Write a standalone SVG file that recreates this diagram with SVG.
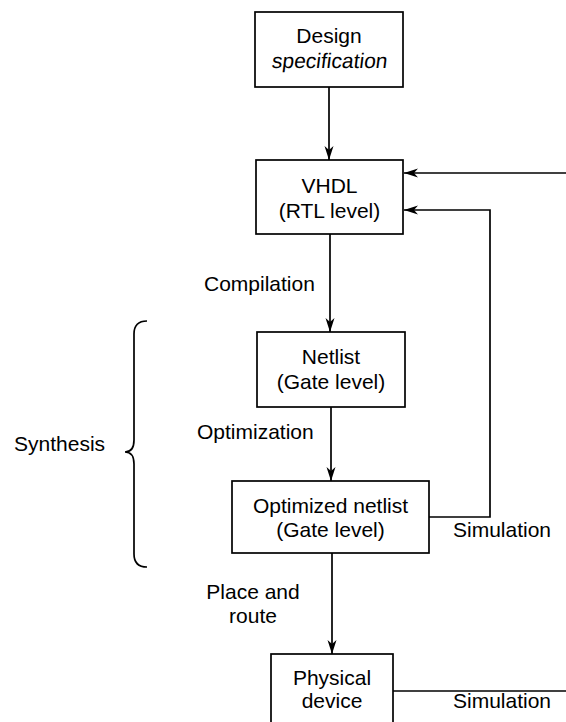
<svg xmlns="http://www.w3.org/2000/svg" width="566" height="722" viewBox="0 0 566 722">
  <defs>
    <marker id="arrow" markerUnits="userSpaceOnUse" markerWidth="16" markerHeight="12" refX="14" refY="6" orient="auto" overflow="visible">
      <path d="M14,6 L0,1.5 L4,6 L0,10.5 Z" fill="#000"/>
    </marker>
    <style>
      .box { fill: #fff; stroke: #000; stroke-width: 1.7; }
      .line { fill: none; stroke: #000; stroke-width: 1.7; }
      text { font-family: "Liberation Sans", Arial, sans-serif; font-size: 21px; fill: #000; }
      .c { text-anchor: middle; }
    </style>
  </defs>
  <rect width="566" height="722" fill="#fff"/>

  <!-- flow connectors -->
  <g id="connectors">
    <line class="line" x1="329" y1="87" x2="329" y2="160" marker-end="url(#arrow)"/>
    <line class="line" x1="330" y1="234" x2="330" y2="332" marker-end="url(#arrow)"/>
    <line class="line" x1="331" y1="407" x2="331" y2="481" marker-end="url(#arrow)"/>
    <line class="line" x1="332" y1="553" x2="332" y2="654" marker-end="url(#arrow)"/>
    <line class="line" x1="566" y1="173" x2="404" y2="173" marker-end="url(#arrow)"/>
    <polyline class="line" points="429,517 490,517 490,210 404,210" marker-end="url(#arrow)"/>
    <line class="line" x1="393" y1="691" x2="566" y2="691"/>
    <path class="line" d="M147,321 Q134,321 134,334 L134,440 Q134,452 125,452 Q134,452 134,464 L134,554 Q134,567 147,567"/>
  </g>

  <!-- connector labels -->
  <g id="labels">
    <text x="204" y="291">Compilation</text>
    <text x="197" y="439">Optimization</text>
    <text class="c" x="253" y="599">Place and</text>
    <text class="c" x="253" y="623">route</text>
    <text x="14" y="451">Synthesis</text>
    <text x="453" y="537">Simulation</text>
    <text x="453" y="708">Simulation</text>
  </g>

  <g id="design-spec">
    <rect class="box" x="255" y="12" width="148" height="75"/>
    <text class="c" x="329" y="43">Design</text>
    <!-- slightly oblique second line -->
    <text class="c" transform="translate(329,68) skewX(-7)">specification</text>
  </g>

  <g id="vhdl">
    <rect class="box" x="256" y="160" width="147" height="74"/>
    <text class="c" x="329.5" y="193">VHDL</text>
    <text class="c" x="329.5" y="218">(RTL level)</text>
  </g>

  <g id="netlist">
    <rect class="box" x="257" y="332" width="148" height="75"/>
    <text class="c" x="331" y="364">Netlist</text>
    <text class="c" x="331" y="389">(Gate level)</text>
  </g>

  <g id="optimized-netlist">
    <rect class="box" x="232" y="481" width="197" height="72"/>
    <text class="c" x="330.5" y="513">Optimized netlist</text>
    <text class="c" x="330.5" y="537">(Gate level)</text>
  </g>

  <g id="physical-device">
    <rect class="box" x="271" y="654" width="122" height="80"/>
    <text class="c" x="332" y="685">Physical</text>
    <text class="c" x="332" y="708">device</text>
  </g>
</svg>
